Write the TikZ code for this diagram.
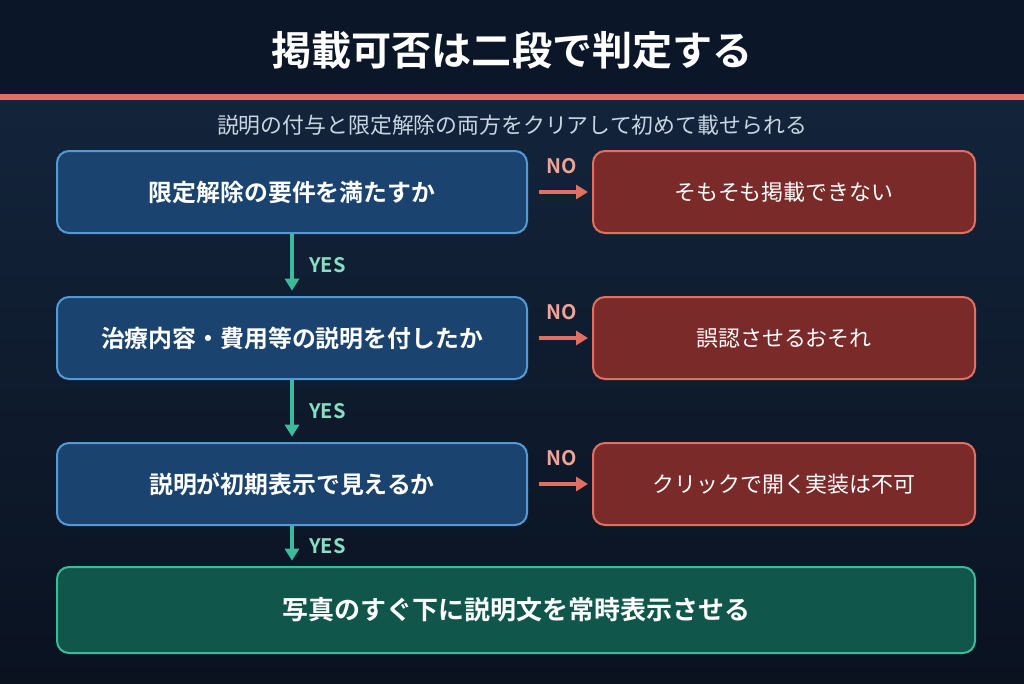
\documentclass[tikz,border=0pt]{standalone}
\usepackage{fontspec}
\setmainfont{Noto Sans CJK JP}[BoldFont={Noto Sans CJK JP Bold}]
\usetikzlibrary{arrows.meta,calc}
\definecolor{hdr}{HTML}{0B1628}
\definecolor{bgtop}{HTML}{13243B}
\definecolor{bgbot}{HTML}{0A1220}
\definecolor{accent}{HTML}{E07062}
\definecolor{subc}{HTML}{C9D5E2}
\definecolor{bluefill}{HTML}{1A436F}
\definecolor{blueline}{HTML}{539AD6}
\definecolor{redfill}{HTML}{7A2B29}
\definecolor{redline}{HTML}{E07062}
\definecolor{greenfill}{HTML}{10564B}
\definecolor{greenline}{HTML}{3DBA9B}
\definecolor{nolab}{HTML}{F2A394}
\definecolor{yeslab}{HTML}{86DFC4}
\tikzset{
  qbox/.style={draw=blueline, fill=bluefill, line width=1.5pt, rounded corners=9pt,
    minimum width=352.5pt, minimum height=61.5pt, text=white, font=\bfseries\fontsize{17.9pt}{20pt}\selectfont},
  nbox/.style={draw=redline, fill=redfill, line width=1.5pt, rounded corners=9pt,
    minimum width=286.5pt, minimum height=61.5pt, text=white, font=\fontsize{16.45pt}{20pt}\selectfont},
  gbox/.style={draw=greenline, fill=greenfill, line width=1.5pt, rounded corners=9pt,
    minimum width=688.5pt, minimum height=64.5pt, text=white, font=\bfseries\fontsize{19.5pt}{22pt}\selectfont},
  noarr/.style={draw=accent, line width=3.5pt, -{Triangle[length=9pt,width=10.5pt]}},
  yesarr/.style={draw=greenline, line width=3pt, -{Triangle[length=9pt,width=10.5pt]}},
  nolabel/.style={text=nolab, font=\bfseries\fontsize{15pt}{16pt}\selectfont},
  yeslabel/.style={text=yeslab, font=\bfseries\fontsize{15pt}{16pt}\selectfont, anchor=west},
}
\begin{document}
\begin{tikzpicture}[x=0.75pt,y=-0.75pt]
\useasboundingbox (0,0) rectangle (1024,683);
\shade[top color=bgtop, bottom color=bgbot] (0,94) rectangle (1024,683);
\fill[hdr] (0,0) rectangle (1024,94);
\fill[accent] (0,94) rectangle (1024,99.5);
\node[text=white, font=\bfseries\fontsize{30.1pt}{32pt}\selectfont] (title) at (512,50) {掲載可否は二段で判定する};
\node[text=subc, font=\fontsize{16.4pt}{18pt}\selectfont] (sub) at (512,125) {説明の付与と限定解除の両方をクリアして初めて載せられる};

\node[qbox] (q1) at (292,192) {限定解除の要件を満たすか};
\node[qbox] (q2) at (292,338) {治療内容・費用等の説明を付したか};
\node[qbox] (q3) at (292,484) {説明が初期表示で見えるか};

\node[nbox] (n1) at (784,192) {そもそも掲載できない};
\node[nbox] (n2) at (784,338) {誤認させるおそれ};
\node[nbox] (n3) at (784,484) {クリックで開く実装は不可};

\node[gbox] (g) at (516,610) {写真のすぐ下に説明文を常時表示させる};

\foreach \i in {1,2,3}{
  \draw[noarr, shorten <=8pt, shorten >=3pt] (q\i.east) -- (n\i.west);
  \node[nolabel] (nl\i) at ($(q\i.east)!0.5!(n\i.west)+(2,-26)$) {NO};
}
\draw[yesarr, shorten >=4pt] (q1.south) -- (q2.north) node[midway, yeslabel, xshift=8pt] (y1) {YES};
\draw[yesarr, shorten >=4pt] (q2.south) -- (q3.north) node[midway, yeslabel, xshift=8pt] (y2) {YES};
\draw[yesarr, shorten >=4pt] (q3.south) -- (q3.south |- g.north) node[midway, yeslabel, xshift=8pt] (y3) {YES};
\end{tikzpicture}
\end{document}
